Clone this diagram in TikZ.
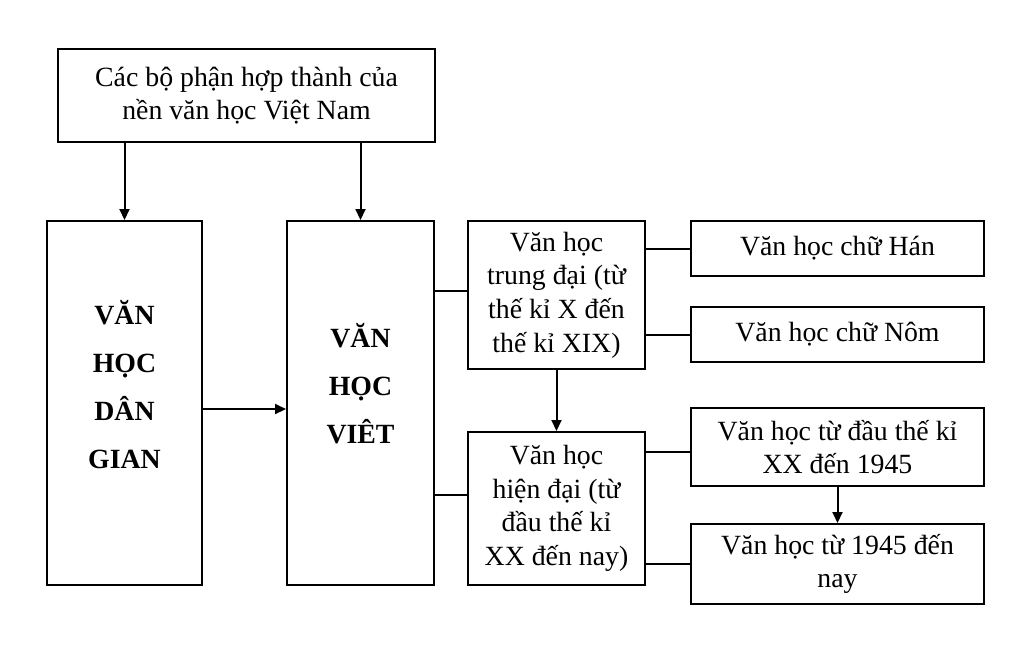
\documentclass[tikz,border=0pt]{standalone}
\usepackage{fontspec}
\setmainfont{Liberation Serif}
\usetikzlibrary{arrows.meta, positioning, calc}

\tikzset{
  box/.style={draw, line width=1pt, align=center, inner sep=2pt,
    font=\fontsize{13.9}{16.8}\selectfont},
  bigtxt/.style={align=center, font=\fontsize{13.9}{24}\selectfont\bfseries},
  arr/.style={line width=1pt, -{Triangle[length=5.5pt,width=5pt]}},
  link/.style={line width=1pt},
}

\begin{document}
\begin{tikzpicture}[x=0.5pt,y=-0.5pt]
\useasboundingbox (0,0) rectangle (1024,661);

% Top box
\node[box,minimum width=188.5pt,minimum height=46.5pt] (nguon) at (246.5,95.5) {Các bộ phận hợp thành của\\nền văn học Việt Nam};

% Two main branches
\node[box,minimum width=77.5pt,minimum height=182pt] (dangian) at (124.5,403) {};
\node[bigtxt] (dangian-txt) at ([yshift=9pt]dangian.center) {VĂN\\HỌC\\DÂN\\GIAN};

\node[box,minimum width=73.5pt,minimum height=182pt] (viet) at (360.5,403) {};
\node[bigtxt] (viet-txt) at ([yshift=9.5pt]viet.center) {VĂN\\HỌC\\VIÊT};

% Periods
\node[box,minimum width=88.5pt,minimum height=74pt] (trungdai) at (556.5,295) {Văn học\\trung đại (từ\\thế kỉ X đến\\thế kỉ XIX)};
\node[box,minimum width=88.5pt,minimum height=76.5pt] (hiendai) at (556.5,508.5) {Văn học\\hiện đại (từ\\đầu thế kỉ\\XX đến nay)};

% Sub parts
\node[box,minimum width=146.5pt,minimum height=27.5pt] (han) at (837.5,248.5) {Văn học chữ Hán};
\node[box,minimum width=146.5pt,minimum height=27.5pt] (nom) at (837.5,334.5) {Văn học chữ Nôm};
\node[box,minimum width=146.5pt,minimum height=39pt] (dauxx) at (837.5,447) {Văn học từ đầu thế kỉ\\XX đến 1945};
\node[box,minimum width=146.5pt,minimum height=40pt] (nay) at (837.5,564) {Văn học từ 1945 đến\\nay};

% Arrows
\draw[arr] (nguon.south -| dangian.north) -- (dangian.north);
\draw[arr] (nguon.south -| viet.north) -- (viet.north);
\draw[arr] ([yshift=-3pt]dangian.east) -- ([yshift=-3pt]viet.west);
\draw[arr] (trungdai.south) -- (hiendai.north);
\draw[arr] (dauxx.south) -- (nay.north);

% Plain links
\coordinate (td-in) at ([yshift=2pt]trungdai.west);
\coordinate (hd-in) at ([yshift=6.75pt]hiendai.west);
\coordinate (xx-in) at ([yshift=-2.5pt]dauxx.west);
\draw[link] (viet.east |- td-in) -- (td-in);
\draw[link] (viet.east |- hd-in) -- (hd-in);
\draw[link] (trungdai.east |- han.west) -- (han.west);
\draw[link] (trungdai.east |- nom.west) -- (nom.west);
\draw[link] (hiendai.east |- xx-in) -- (xx-in);
\draw[link] (hiendai.east |- nay.west) -- (nay.west);
\end{tikzpicture}
\end{document}
